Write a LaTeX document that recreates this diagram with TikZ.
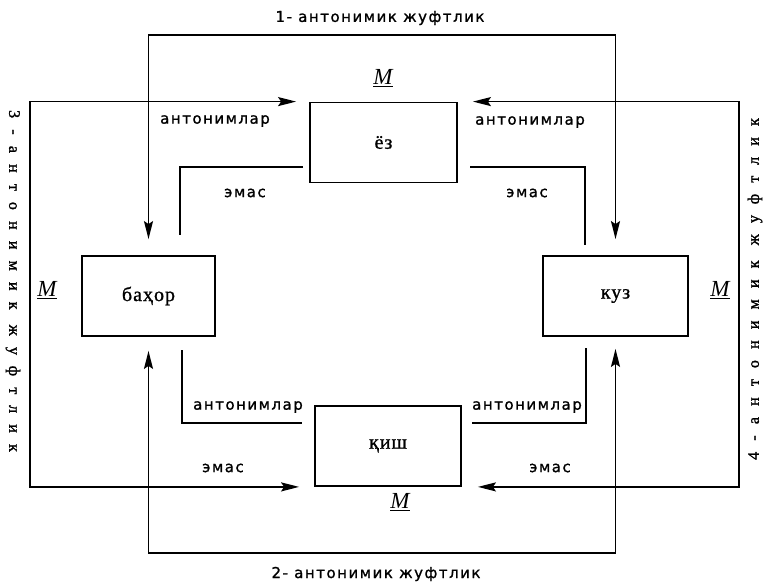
\documentclass[tikz,border=0pt]{standalone}
\usepackage{fontspec}
\setmainfont{Liberation Serif}
\newfontfamily\lblfont[FakeBold=1.2]{DejaVu Sans}
\usetikzlibrary{arrows.meta}

\begin{document}
\begin{tikzpicture}[x=1pt, y=-1pt, line width=1.8pt,
    >={Stealth[length=18pt, width=9pt, inset=3pt]},
    season/.style={draw, minimum height=80pt, font=\fontsize{20}{22}\selectfont\addfontfeature{LetterSpace=5, FakeBold=1}},
    lbl/.style={inner sep=0pt, font=\lblfont\fontsize{15}{18}\selectfont\addfontfeature{LetterSpace=10}},
    side/.style={inner sep=0pt, font=\fontsize{16}{18}\selectfont\addfontfeature{LetterSpace=70, FakeBold=1.5}},
    mlab/.style={inner sep=0pt, font=\fontsize{23}{25}\selectfont\itshape}]
        \useasboundingbox (0, 0) rectangle (767, 585);

        % the four seasons
        \node[season, minimum width=147pt] (yoz) at (383.5, 142.5) {ёз};
        \node[season, minimum width=133pt] (bahor) at (148.5, 296) {баҳор};
        \node[season, minimum width=145pt] (kuz) at (615.5, 296) {куз};
        \node[season, minimum width=146pt] (qish) at (388, 446) {қиш};

        % outer pairs
        \coordinate (top1) at (380, 35);
        \coordinate (bot2) at (380, 553);
        \coordinate (left3) at (30, 290);
        \coordinate (right4) at (739, 290);

        \draw[<->, shorten <=16pt, shorten >=16pt] (bahor.north) |- (top1) -| (kuz.north);
        \draw[<->, shorten <=14pt, shorten >=12pt] (bahor.south) |- (bot2) -| (kuz.south);
        \draw[<->, shorten <=13pt, shorten >=15pt] (yoz.north west) -| (left3) |- (qish.south west);
        \draw[<->, shorten <=15pt, shorten >=16pt] (yoz.north east) -| (right4) |- (qish.south east);

        % inner brackets
        \coordinate (yb1) at (303, 167);
        \coordinate (yb2) at (180, 235);
        \coordinate (yk1) at (470, 167);
        \coordinate (yk2) at (585, 245);
        \coordinate (bq1) at (182, 350);
        \coordinate (bq2) at (302, 423);
        \coordinate (kq1) at (472, 423);
        \coordinate (kq2) at (586, 348);

        \draw (yb1) -| (yb2);
        \draw (yk1) -| (yk2);
        \draw (bq1) |- (bq2);
        \draw (kq1) -| (kq2);

        % texts
        \node[lbl] (title1) at (380, 18) {1- антонимик жуфтлик};
        \node[lbl] (title2) at (376, 574) {2- антонимик жуфтлик};
        \node[side, rotate=-90] (title3) at (13, 281) {3-антонимик жуфтлик};
        \node[side, rotate=90] (title4) at (755, 289) {4-антонимик жуфтлик};

        \node[lbl] (ant1) at (215, 121) {антонимлар};
        \node[lbl] (ant2) at (530, 122) {антонимлар};
        \node[lbl] (ant3) at (248, 407) {антонимлар};
        \node[lbl] (ant4) at (527, 407) {антонимлар};
        \node[lbl] (emas1) at (245, 193) {эмас};
        \node[lbl] (emas2) at (527, 193) {эмас};
        \node[lbl] (emas3) at (223, 468) {эмас};
        \node[lbl] (emas4) at (550, 468) {эмас};

        \node[mlab] (m1) at (383, 78) {\underline{M}};
        \node[mlab] (m2) at (47, 290) {\underline{M}};
        \node[mlab] (m3) at (720, 290) {\underline{M}};
        \node[mlab] (m4) at (400, 502) {\underline{M}};
      \end{tikzpicture}
\end{document}
